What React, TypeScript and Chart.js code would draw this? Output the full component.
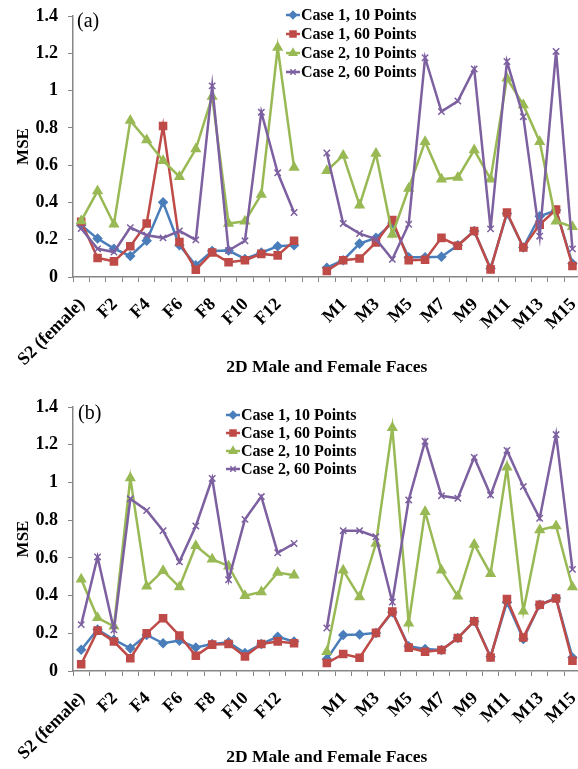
import React, { useEffect, useRef } from "react";
import { Chart, registerables } from "chart.js";
import { drawPoint } from "chart.js/helpers";

Chart.register(...registerables);

const categories = [
  "S2 (female)", "F1", "F2", "F3", "F4", "F5", "F6", "F7", "F8", "F9", "F10", "F11", "F12", "F13",
  "",
  "S1 (male)", "M1", "M2", "M3", "M4", "M5", "M6", "M7", "M8", "M9", "M10", "M11", "M12", "M13", "M14", "M15",
];

const seriesNames = ["Case 1, 10 Points", "Case 1, 60 Points", "Case 2, 10 Points", "Case 2, 60 Points"];

// Panel (a)
const a_case1_10 = [0.278, 0.206, 0.152, 0.113, 0.194, 0.401, 0.17, 0.063, 0.14, 0.142, 0.097, 0.131, 0.165, 0.17,
  null,
  0.05, 0.09, 0.179, 0.21, 0.29, 0.106, 0.106, 0.109, 0.17, 0.247, 0.045, 0.341, 0.158, 0.326, 0.358, 0.072];
const a_case1_60 = [0.296, 0.102, 0.084, 0.165, 0.287, 0.81, 0.188, 0.039, 0.131, 0.079, 0.09, 0.124, 0.116, 0.194,
  null,
  0.032, 0.09, 0.099, 0.185, 0.305, 0.09, 0.093, 0.21, 0.168, 0.247, 0.041, 0.346, 0.158, 0.281, 0.362, 0.059];
const a_case2_10 = [0.301, 0.461, 0.283, 0.839, 0.735, 0.624, 0.538, 0.686, 0.968, 0.287, 0.299, 0.443, 1.231, 0.588,
  null,
  0.57, 0.652, 0.385, 0.663, 0.228, 0.475, 0.726, 0.525, 0.534, 0.681, 0.525, 1.066, 0.923, 0.726, 0.299, 0.269];
const a_case2_60 = [0.26, 0.151, 0.134, 0.265, 0.224, 0.21, 0.247, 0.199, 1.025, 0.142, 0.194, 0.884, 0.559, 0.346,
  null,
  0.665, 0.287, 0.233, 0.203, 0.095, 0.283, 1.176, 0.887, 0.944, 1.116, 0.258, 1.156, 0.86, 0.219, 1.21, 0.151];

// Panel (b)
const b_case1_10 = [0.113, 0.22, 0.166, 0.12, 0.191, 0.147, 0.161, 0.125, 0.143, 0.152, 0.095, 0.143, 0.182, 0.156,
  null,
  0.063, 0.191, 0.193, 0.202, 0.312, 0.131, 0.117, 0.111, 0.175, 0.264, 0.076, 0.365, 0.17, 0.351, 0.387, 0.072];
const b_case1_60 = [0.036, 0.214, 0.156, 0.068, 0.2, 0.28, 0.188, 0.081, 0.14, 0.143, 0.077, 0.143, 0.157, 0.147,
  null,
  0.042, 0.09, 0.07, 0.202, 0.316, 0.124, 0.102, 0.111, 0.175, 0.264, 0.072, 0.381, 0.178, 0.351, 0.384, 0.054];
const b_case2_10 = [0.486, 0.282, 0.237, 1.023, 0.449, 0.532, 0.445, 0.664, 0.593, 0.556, 0.399, 0.419, 0.522, 0.508,
  null,
  0.102, 0.534, 0.392, 0.676, 1.29, 0.253, 0.845, 0.534, 0.396, 0.671, 0.516, 1.08, 0.317, 0.748, 0.769, 0.445];
const b_case2_60 = [0.246, 0.605, 0.218, 0.913, 0.851, 0.744, 0.579, 0.769, 1.021, 0.484, 0.804, 0.925, 0.627, 0.676,
  null,
  0.228, 0.744, 0.744, 0.712, 0.366, 0.907, 1.218, 0.929, 0.916, 1.133, 0.933, 1.17, 0.978, 0.81, 1.254, 0.539];

const yTicks = [0, 0.2, 0.4, 0.6, 0.8, 1, 1.2, 1.4];

const colors = ["#4A7EBB", "#BE4B48", "#98B954", "#7D60A0"];
const markers = ["rectRot", "rect", "triangle", "crossRot"];
const markerSizes = [4.2, 5, 5, 4.5];

const SERIF = "'Liberation Serif', 'DejaVu Serif', serif";

function makeLegendPlugin(panelLabel: string, lx: number, ly: number, rowH: number, labelPos: { x: number; y: number }) {
  return {
    id: "customLegend",
    afterDraw(chart: any) {
      const ctx = chart.ctx;
      ctx.save();
      ctx.fillStyle = "#000";
      ctx.font = `20px ${SERIF}`;
      ctx.textBaseline = "middle";
      ctx.textAlign = "left";
      ctx.fillText(panelLabel, labelPos.x, labelPos.y);
      chart.data.datasets.forEach((ds: any, i: number) => {
        const y = ly + i * rowH;
        ctx.strokeStyle = ds.borderColor;
        ctx.lineWidth = 2.5;
        ctx.beginPath();
        ctx.moveTo(lx, y);
        ctx.lineTo(lx + 14, y);
        ctx.stroke();
        ctx.fillStyle = ds.pointBackgroundColor;
        ctx.strokeStyle = ds.pointBorderColor;
        ctx.lineWidth = 1.5;
        drawPoint(ctx, { pointStyle: ds.pointStyle, radius: ds.pointRadius * 0.85, borderWidth: 1.5, rotation: 0 } as any, lx + 7, y);
        ctx.fillStyle = "#000";
        ctx.font = `bold 16px ${SERIF}`;
        ctx.textBaseline = "middle";
        ctx.fillText(ds.label, lx + 15, y + 1);
      });
      ctx.restore();
    },
  };
}

function buildConfig(values: (number | null)[][], xHeight: number, titlePadBottom: number, plugin: any, padTop: number) {
  return {
    type: "line" as const,
    data: {
      labels: categories,
      datasets: values.map((v, i) => ({
        label: seriesNames[i],
        data: v,
        order: values.length - i,
        borderColor: colors[i],
        backgroundColor: colors[i],
        pointBackgroundColor: colors[i],
        pointBorderColor: colors[i],
        pointStyle: markers[i],
        pointRadius: markerSizes[i],
        pointBorderWidth: 1.5,
        borderWidth: 2.5,
        tension: 0,
        spanGaps: false,
      })),
    },
    options: {
      animation: false,
      responsive: false,
      layout: { padding: { top: padTop, right: 17, left: 0, bottom: 0 } },
      plugins: {
        legend: { display: false },
        tooltip: { enabled: false },
      },
      scales: {
        x: {
          type: "category",
          offset: true,
          grid: {
            offset: true,
            drawOnChartArea: false,
            drawTicks: true,
            tickLength: 5,
            color: "#868686",
            lineWidth: 1,
          },
          border: { display: true, color: "#868686", width: 1.5 },
          ticks: {
            autoSkip: false,
            maxRotation: 45,
            minRotation: 45,
            padding: 12,
            labelOffset: 1,
            color: "#000",
            font: { family: SERIF, size: 18, weight: "bold" },
            callback: (_v: any, idx: number) => (idx % 2 === 0 ? categories[idx] : ""),
          },
          title: {
            display: true,
            text: "2D Male and Female Faces",
            color: "#000",
            font: { family: SERIF, size: 17.5, weight: "bold" },
            padding: { top: 0, bottom: titlePadBottom },
          },
          afterFit: (scale: any) => {
            scale.height = xHeight;
          },
        },
        y: {
          min: 0,
          max: 1.4,
          afterBuildTicks: (scale: any) => {
            scale.ticks = yTicks.map((v) => ({ value: v }));
          },
          grid: {
            drawOnChartArea: false,
            drawTicks: true,
            tickLength: 5,
            color: "#868686",
          },
          border: { display: true, color: "#868686", width: 1.5 },
          ticks: {
            padding: 10,
            color: "#000",
            font: { family: SERIF, size: 18, weight: "bold" },
            callback: (v: any) => String(Math.round(Number(v) * 10) / 10),
          },
          title: {
            display: true,
            text: "MSE",
            color: "#000",
            font: { family: SERIF, size: 17, weight: "bold" },
            padding: { top: 13, bottom: 0 },
          },
          afterFit: (scale: any) => {
            scale.width = 73;
            scale.paddingTop = 0;
            scale.paddingBottom = 0;
          },
        },
      },
    },
    plugins: [plugin],
  };
}

function Panel({ values, width, height, xHeight, titlePadBottom, padTop, plugin }: any) {
  const ref = useRef<HTMLCanvasElement>(null);
  useEffect(() => {
    if (!ref.current) return;
    const chart = new Chart(ref.current, buildConfig(values, xHeight, titlePadBottom, plugin, padTop) as any);
    return () => chart.destroy();
  }, []);
  return <canvas ref={ref} width={width} height={height} style={{ display: "block", width, height }} />;
}

export default function App() {
  const legendA = makeLegendPlugin("(a)", 286, 15, 19, { x: 77, y: 22 });
  const legendB = makeLegendPlugin("(b)", 226, 415 - 385, 18, { x: 78, y: 414 - 385 });
  return (
    <div style={{ position: "absolute", left: 0, top: 0, width: 578, height: 769, overflow: "hidden", background: "#fff" }}>
      <Panel
        values={[a_case1_10, a_case1_60, a_case2_10, a_case2_60]}
        width={600}
        height={385}
        xHeight={108}
        titlePadBottom={7}
        padTop={16}
        plugin={legendA}
      />
      <Panel
        values={[b_case1_10, b_case1_60, b_case2_10, b_case2_60]}
        width={600}
        height={384}
        xHeight={98}
        titlePadBottom={1}
        padTop={22}
        plugin={legendB}
      />
    </div>
  );
}
